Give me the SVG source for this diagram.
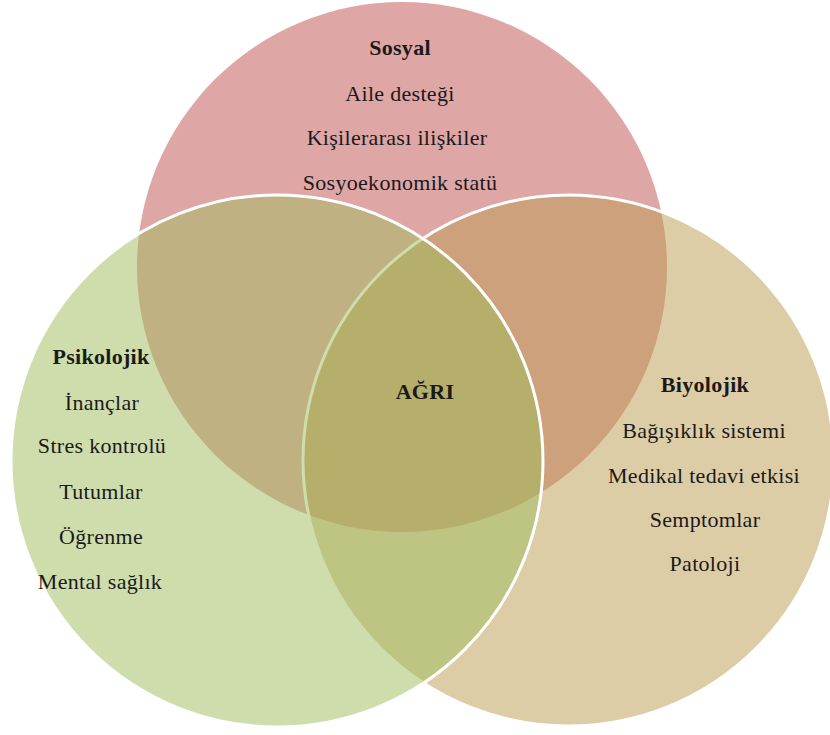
<svg xmlns="http://www.w3.org/2000/svg" width="830" height="735" viewBox="0 0 830 735">
<style>
text{font-family:"Liberation Serif","Times New Roman",serif;font-size:22px;fill:#1a1a1a;text-anchor:middle;letter-spacing:0.3px}
.t{font-weight:bold}
.ring{stroke:#ffffff;stroke-width:3}
</style>
<rect width="830" height="735" fill="#ffffff"/>
<g id="sosyal">
<circle cx="402" cy="267" r="265" fill="#DFA6A6"/>
<text x="400" y="55" class="t">Sosyal</text>
<text x="400" y="101">Aile desteği</text>
<text x="397" y="145">Kişilerarası ilişkiler</text>
<text x="400" y="190">Sosyoekonomik statü</text>
</g>
<g id="biyolojik">
<circle cx="568.5" cy="460.5" r="265.5" fill="#BB9B4F" fill-opacity="0.5" class="ring"/>
<text x="705" y="392" class="t">Biyolojik</text>
<text x="704" y="438">Bağışıklık sistemi</text>
<text x="704" y="483">Medikal tedavi etkisi</text>
<text x="705" y="527">Semptomlar</text>
<text x="705" y="571">Patoloji</text>
</g>
<g id="psikolojik">
<circle cx="277" cy="461" r="266" fill="#9FBB5B" fill-opacity="0.5" class="ring"/>
<text x="101" y="364" class="t">Psikolojik</text>
<text x="102" y="410">İnançlar</text>
<text x="102" y="453">Stres kontrolü</text>
<text x="101" y="499">Tutumlar</text>
<text x="101" y="544">Öğrenme</text>
<text x="100" y="589">Mental sağlık</text>
</g>
<g id="agri">
<text x="425" y="399" class="t">AĞRI</text>
</g>
<g id="connectors"/>
</svg>
